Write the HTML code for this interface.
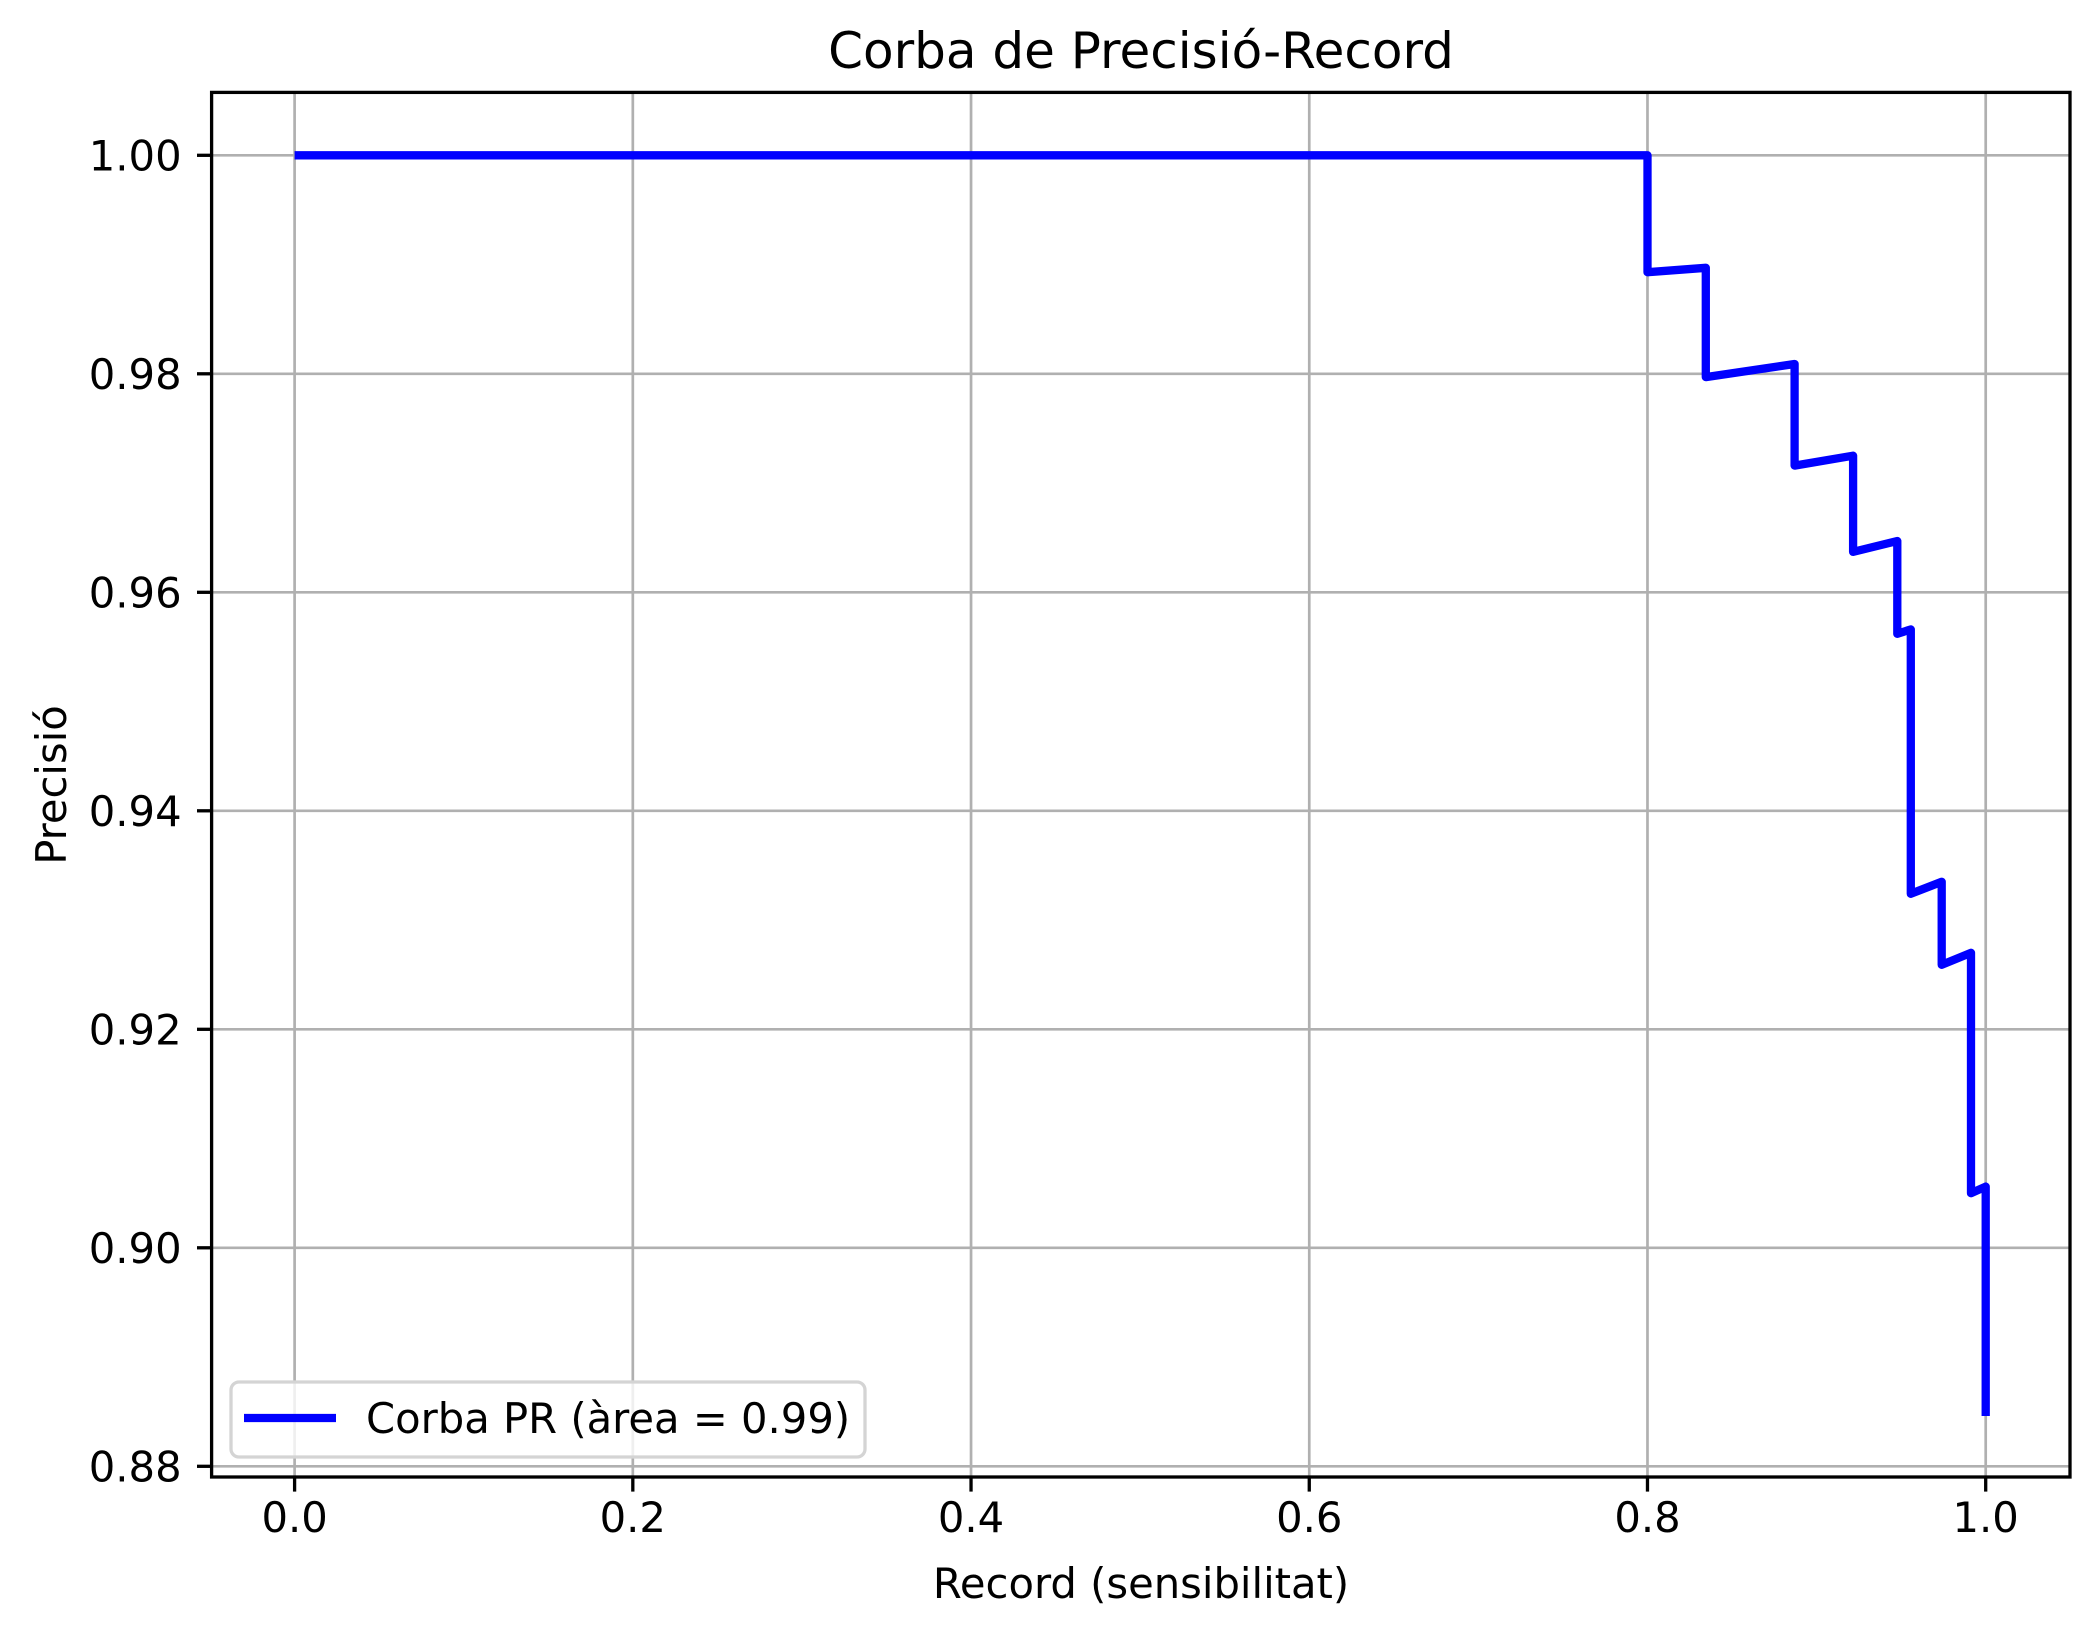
<!DOCTYPE html>
<html><head><meta charset="utf-8"><style>
html,body{margin:0;padding:0;background:#fff;}
svg{display:block;font-family:"DejaVu Sans","Liberation Sans",sans-serif;}
</style></head><body>
<svg id="chart" width="2100" height="1638" viewBox="0 0 2100 1638" xmlns="http://www.w3.org/2000/svg">
<rect width="2100" height="1638" fill="#fff"/>
<g id="grid"></g>
<g id="series"></g>
<rect x="211.6" y="92.4" width="1858.4" height="1384.6" fill="none" stroke="#000" stroke-width="3.3"/>
<g id="xticks"></g>
<g id="yticks"></g>
<text x="1141" y="68" font-size="50" text-anchor="middle">Corba de Precisió-Record</text>
<text x="1141" y="1598" font-size="41.7" text-anchor="middle">Record (sensibilitat)</text>
<text transform="translate(66,785) rotate(-90)" font-size="41.7" text-anchor="middle">Precisió</text>
<g>
<rect x="231" y="1382" width="634" height="75" rx="8" fill="#fff" fill-opacity="0.8" stroke="#d4d4d4" stroke-width="3.3"/>
<line x1="244" y1="1418" x2="336" y2="1418" stroke="#0000ff" stroke-width="8.3"/>
<text x="366" y="1433" font-size="41.7">Corba PR (àrea = 0.99)</text>
</g>
</svg>
<script>
const recall = [0, 0.8, 0.8, 0.8345, 0.8345, 0.887, 0.887, 0.9216, 0.9216, 0.9477, 0.9477, 0.9557, 0.9557, 0.974, 0.974, 0.9913, 0.9913, 1.0, 1.0];
const precision = [1.0, 1.0, 0.9893, 0.9897, 0.9797, 0.9809, 0.9716, 0.9725, 0.9637, 0.9647, 0.9562, 0.9566, 0.9324, 0.9335, 0.9259, 0.927, 0.905, 0.9056, 0.8846];
const xTicks = [0, 0.2, 0.4, 0.6, 0.8, 1.0];
const xTickLabels = ["0.0", "0.2", "0.4", "0.6", "0.8", "1.0"];
const yTicks = [0.88, 0.90, 0.92, 0.94, 0.96, 0.98, 1.00];
const yTickLabels = ["0.88", "0.90", "0.92", "0.94", "0.96", "0.98", "1.00"];

const NS = "http://www.w3.org/2000/svg";
const L = 211.6, R = 2070, T = 92.4, B = 1477;
function sx(v){ return 294.6 + v * (1985.7 - 294.6); }
function sy(v){ return 155.3 + (1.0 - v) / 0.02 * 218.5; }
function mk(tag, attrs, parent){
  const e = document.createElementNS(NS, tag);
  for (const k in attrs) e.setAttribute(k, attrs[k]);
  parent.appendChild(e);
  return e;
}
const grid = document.getElementById('grid');
const xg = document.getElementById('xticks');
const yg = document.getElementById('yticks');
xTicks.forEach((v, i) => {
  const x = sx(v);
  const gl = mk('line', {x1:x, x2:x, y1:T, y2:B, stroke:'#b0b0b0', 'stroke-width':2.7}, grid);
  
  
  const tk = mk('line', {x1:x, x2:x, y1:B, y2:B+14.6, stroke:'#000', 'stroke-width':3.3}, xg);
  
  
  const t = mk('text', {x:x, y:B+55, 'font-size':41.7, 'text-anchor':'middle'}, xg);
  t.textContent = xTickLabels[i];
  
  
});
yTicks.forEach((v, i) => {
  const y = sy(v);
  const gl = mk('line', {x1:L, x2:R, y1:y, y2:y, stroke:'#b0b0b0', 'stroke-width':2.7}, grid);
  
  
  const tk = mk('line', {x1:L-14.6, x2:L, y1:y, y2:y, stroke:'#000', 'stroke-width':3.3}, yg);
  
  
  const t = mk('text', {x:L-30, y:y+15, 'font-size':41.7, 'text-anchor':'end'}, yg);
  t.textContent = yTickLabels[i];
  
  
});
const pts = recall.map((r, i) => sx(r).toFixed(1) + ',' + sy(precision[i]).toFixed(1)).join(' ');
const pl = mk('polyline', {points:pts, fill:'none', stroke:'#0000ff', 'stroke-width':8.3, 'stroke-linejoin':'round'}, document.getElementById('series'));


</script>
</body></html>
